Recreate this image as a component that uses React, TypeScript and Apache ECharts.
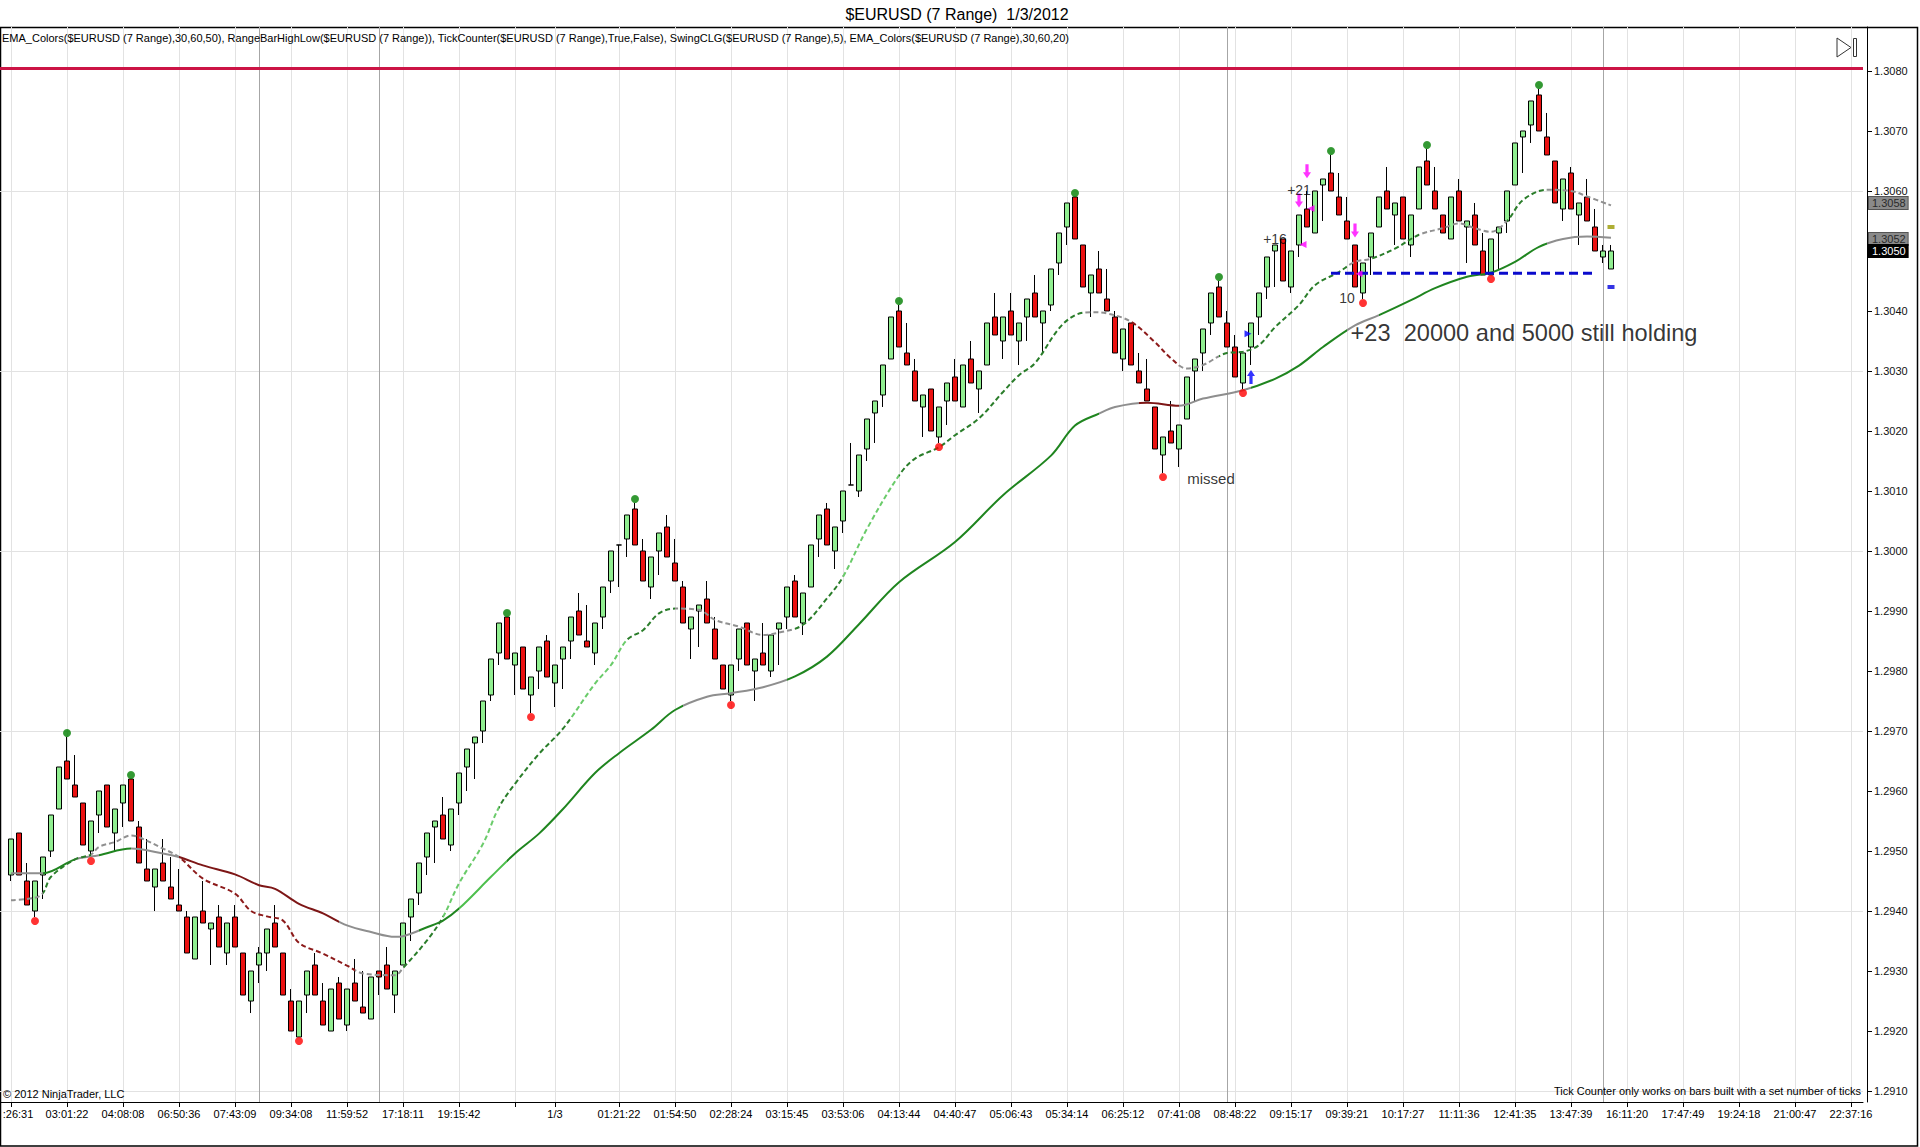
import React, { useEffect, useRef } from "react";
import * as echarts from "echarts";

const FONT = "'Liberation Sans', Arial, Helvetica, sans-serif";

// ---------- axis ranges ----------
const Y_MIN = 1.290817;
const Y_MAX = 1.308733;
const CATEGORY_COUNT = 233;

// ---------- range bars (bar 1 .. 201) ----------
const barOpen = [
  1.2946,1.2953,1.2945,1.2940,1.2946,1.2950,1.2957,1.2965,1.2961,1.2958,
  1.2950,1.2956,1.2961,1.2953,1.2958,1.2962,1.2954,1.2947,1.2944,1.2948,
  1.2944,1.2941,1.2939,1.2932,1.2940,1.2937,1.2939,1.2933,1.2939,1.2933,
  1.2925,1.2931,1.2933,1.2938,1.2933,1.2925,1.2919,1.2926,1.2931,1.2925,
  1.2920,1.2928,1.2921,1.2928,1.2924,1.2922,1.2930,1.2931,1.2926,1.2931,
  1.2939,1.2943,1.2949,1.2954,1.2956,1.2951,1.2958,1.2964,1.2968,1.2970,
  1.2976,1.2983,1.2989,1.2981,1.2984,1.2976,1.2980,1.2985,1.2978,1.2982,
  1.2985,1.2990,1.2985,1.2983,1.2989,1.2995,1.3001,1.3002,1.3007,1.3000,
  1.2994,1.3000,1.3004,1.2998,1.2994,1.2987,1.2990,1.2992,1.2987,1.2981,
  1.2976,1.2982,1.2988,1.2980,1.2983,1.2980,1.2987,1.2989,1.2995,1.2988,
  1.2994,1.3002,1.3007,1.3000,1.3005,1.3011,1.3010,1.3017,1.3023,1.3026,
  1.3032,1.3040,1.3033,1.3030,1.3024,1.3027,1.3019,1.3025,1.3029,1.3024,
  1.3032,1.3027,1.3031,1.3039,1.3035,1.3040,1.3035,1.3039,1.3043,1.3038,
  1.3041,1.3048,1.3054,1.3059,1.3051,1.3043,1.3047,1.3042,1.3039,1.3032,
  1.3038,1.3030,1.3027,1.3024,1.3016,1.3020,1.3017,1.3022,1.3030,1.3033,
  1.3038,1.3044,1.3038,1.3034,1.3028,1.3034,1.3039,1.3044,1.3050,1.3052,
  1.3044,1.3051,1.3057,1.3053,1.3061,1.3063,1.3059,1.3055,1.3051,1.3043,
  1.3049,1.3054,1.3060,1.3056,1.3059,1.3051,1.3057,1.3065,1.3060,1.3056,
  1.3052,1.3060,1.3054,1.3056,1.3050,1.3046,1.3053,1.3055,1.3061,1.3069,
  1.3071,1.3076,1.3069,1.3065,1.3057,1.3063,1.3056,1.3059,1.3054,1.3049,1.3047,
];
const barClose = [
  1.2952,1.2946,1.2941,1.2945,1.2949,1.2956,1.2964,1.2962,1.2959,1.2951,
  1.2955,1.2960,1.2954,1.2957,1.2961,1.2955,1.2948,1.2945,1.2947,1.2945,
  1.2942,1.2940,1.2933,1.2939,1.2938,1.2938,1.2934,1.2938,1.2934,1.2926,
  1.2930,1.2933,1.2937,1.2934,1.2926,1.2920,1.2925,1.2930,1.2926,1.2921,
  1.2927,1.2922,1.2927,1.2925,1.2923,1.2929,1.2929,1.2927,1.2930,1.2938,
  1.2942,1.2948,1.2953,1.2955,1.2952,1.2957,1.2963,1.2967,1.2969,1.2975,
  1.2982,1.2988,1.2982,1.2983,1.2977,1.2979,1.2984,1.2979,1.2981,1.2984,
  1.2989,1.2986,1.2984,1.2988,1.2994,1.3000,1.3001,1.3006,1.3001,1.2995,
  1.2999,1.3003,1.2999,1.2995,1.2988,1.2989,1.2991,1.2988,1.2982,1.2977,
  1.2981,1.2987,1.2981,1.2982,1.2981,1.2986,1.2988,1.2994,1.2989,1.2993,
  1.3001,1.3006,1.3001,1.3004,1.3010,1.3011,1.3016,1.3022,1.3025,1.3031,
  1.3039,1.3034,1.3031,1.3025,1.3026,1.3020,1.3024,1.3028,1.3025,1.3031,
  1.3028,1.3030,1.3038,1.3036,1.3039,1.3036,1.3038,1.3042,1.3039,1.3040,
  1.3047,1.3053,1.3058,1.3052,1.3044,1.3046,1.3043,1.3040,1.3033,1.3037,
  1.3031,1.3028,1.3025,1.3017,1.3019,1.3018,1.3021,1.3029,1.3032,1.3037,
  1.3043,1.3039,1.3034,1.3029,1.3033,1.3038,1.3043,1.3049,1.3051,1.3045,
  1.3050,1.3056,1.3054,1.3060,1.3062,1.3060,1.3056,1.3052,1.3044,1.3048,
  1.3053,1.3059,1.3057,1.3058,1.3052,1.3056,1.3064,1.3061,1.3057,1.3053,
  1.3059,1.3055,1.3055,1.3051,1.3046,1.3052,1.3054,1.3060,1.3068,1.3070,
  1.3075,1.3070,1.3066,1.3058,1.3062,1.3057,1.3058,1.3055,1.3050,1.3050,1.3050,
];
const barLow = [
  1.2945,1.2946,1.2941,1.2939,1.2942,1.2949,1.2957,1.2962,1.2959,1.2951,
  1.2949,1.2953,1.2954,1.2950,1.2954,1.2955,1.2948,1.2945,1.2940,1.2945,
  1.2942,1.2940,1.2933,1.2932,1.2938,1.2931,1.2934,1.2931,1.2934,1.2926,
  1.2923,1.2928,1.2930,1.2934,1.2926,1.2920,1.2919,1.2923,1.2926,1.2921,
  1.2920,1.2922,1.2920,1.2925,1.2923,1.2922,1.2926,1.2927,1.2923,1.2931,
  1.2935,1.2941,1.2946,1.2948,1.2952,1.2950,1.2956,1.2960,1.2962,1.2968,
  1.2975,1.2981,1.2982,1.2976,1.2977,1.2973,1.2977,1.2979,1.2974,1.2977,
  1.2982,1.2986,1.2984,1.2981,1.2987,1.2993,1.2994,1.2999,1.3001,1.2995,
  1.2992,1.2996,1.2999,1.2995,1.2988,1.2982,1.2984,1.2988,1.2982,1.2977,
  1.2975,1.2980,1.2981,1.2975,1.2981,1.2979,1.2981,1.2987,1.2989,1.2986,
  1.2994,1.2999,1.3001,1.2997,1.3003,1.3011,1.3009,1.3015,1.3018,1.3024,
  1.3032,1.3034,1.3031,1.3025,1.3019,1.3020,1.3018,1.3021,1.3025,1.3024,
  1.3028,1.3023,1.3031,1.3036,1.3032,1.3036,1.3031,1.3035,1.3039,1.3033,
  1.3040,1.3046,1.3051,1.3052,1.3044,1.3039,1.3043,1.3040,1.3033,1.3030,
  1.3031,1.3028,1.3025,1.3017,1.3013,1.3018,1.3014,1.3022,1.3025,1.3030,
  1.3036,1.3039,1.3034,1.3029,1.3027,1.3031,1.3036,1.3042,1.3044,1.3045,
  1.3043,1.3049,1.3054,1.3053,1.3055,1.3060,1.3056,1.3052,1.3044,1.3042,
  1.3046,1.3054,1.3057,1.3051,1.3052,1.3049,1.3057,1.3061,1.3057,1.3053,
  1.3052,1.3055,1.3048,1.3051,1.3046,1.3046,1.3047,1.3053,1.3061,1.3063,
  1.3068,1.3070,1.3066,1.3058,1.3055,1.3057,1.3051,1.3055,1.3050,1.3048,1.3047,
];
const barHigh = [
  1.2952,1.2953,1.2948,1.2945,1.2949,1.2956,1.2964,1.2969,1.2966,1.2958,
  1.2955,1.2960,1.2961,1.2957,1.2961,1.2962,1.2955,1.2952,1.2947,1.2952,
  1.2949,1.2947,1.2940,1.2939,1.2945,1.2938,1.2941,1.2938,1.2941,1.2933,
  1.2930,1.2934,1.2937,1.2941,1.2933,1.2927,1.2925,1.2930,1.2933,1.2928,
  1.2927,1.2929,1.2927,1.2932,1.2930,1.2929,1.2930,1.2934,1.2930,1.2938,
  1.2942,1.2948,1.2953,1.2955,1.2959,1.2957,1.2963,1.2967,1.2969,1.2975,
  1.2982,1.2988,1.2989,1.2983,1.2984,1.2979,1.2984,1.2986,1.2981,1.2984,
  1.2989,1.2993,1.2991,1.2988,1.2994,1.3000,1.3001,1.3006,1.3008,1.3002,
  1.2999,1.3003,1.3006,1.3002,1.2995,1.2989,1.2991,1.2995,1.2989,1.2981,
  1.2981,1.2987,1.2988,1.2982,1.2988,1.2986,1.2988,1.2994,1.2996,1.2993,
  1.3001,1.3006,1.3008,1.3004,1.3010,1.3018,1.3016,1.3022,1.3025,1.3031,
  1.3039,1.3041,1.3038,1.3032,1.3026,1.3027,1.3024,1.3028,1.3032,1.3031,
  1.3035,1.3030,1.3038,1.3043,1.3039,1.3043,1.3038,1.3042,1.3046,1.3040,
  1.3047,1.3053,1.3058,1.3059,1.3051,1.3046,1.3050,1.3047,1.3040,1.3037,
  1.3038,1.3033,1.3032,1.3024,1.3019,1.3025,1.3021,1.3029,1.3032,1.3037,
  1.3043,1.3045,1.3040,1.3036,1.3033,1.3038,1.3043,1.3049,1.3051,1.3052,
  1.3050,1.3056,1.3060,1.3060,1.3062,1.3066,1.3063,1.3059,1.3051,1.3048,
  1.3053,1.3059,1.3064,1.3058,1.3059,1.3056,1.3064,1.3067,1.3064,1.3056,
  1.3059,1.3062,1.3055,1.3058,1.3053,1.3052,1.3054,1.3060,1.3068,1.3070,
  1.3075,1.3077,1.3073,1.3065,1.3062,1.3064,1.3058,1.3062,1.3057,1.3051,1.3051,
];

// ---------- EMA readings (bar index, value) ----------
const emaSlowBars = [1,5,9,12,16,20,22,25,29,32,34,37,40,43,46,49,50,53,55,57,61,64,67,70,74,77,81,84,88,91,95,99,103,107,112,119,125,131,134,137,139,143,147,150,155,159,162,165,169,172,176,179,183,186,189,192,195,198,201];
const emaSlowValues = [1.29463,1.29463,1.29486,1.29493,1.29504,1.29496,1.29490,1.29476,1.29461,1.29443,1.29437,1.29412,1.29396,1.29376,1.29365,1.29357,1.29358,1.29373,1.29384,1.29404,1.29457,1.29496,1.29529,1.29570,1.29630,1.29663,1.29702,1.29735,1.29757,1.29763,1.29773,1.29791,1.29824,1.29878,1.29948,1.30015,1.30093,1.30159,1.30209,1.30229,1.30240,1.30247,1.30242,1.30254,1.30268,1.30287,1.30309,1.30340,1.30376,1.30393,1.30418,1.30438,1.30457,1.30464,1.30482,1.30507,1.30520,1.30524,1.30522];
const emaFastBars = [1,4,5,6,9,11,12,14,16,17,20,22,25,29,31,33,35,37,40,43,45,49,50,53,55,57,60,62,64,67,70,74,76,78,80,82,84,87,89,92,95,97,100,103,105,108,112,114,117,119,122,125,127,129,132,134,136,138,141,144,146,148,150,153,155,157,159,162,164,167,169,171,174,177,180,182,184,186,188,190,193,196,198,201];
const emaFastValues = [1.29418,1.29422,1.29430,1.29457,1.29486,1.29494,1.29507,1.29515,1.29526,1.29523,1.29504,1.29490,1.29454,1.29429,1.29400,1.29391,1.29384,1.29347,1.29329,1.29309,1.29296,1.29293,1.29305,1.29351,1.29390,1.29446,1.29512,1.29573,1.29612,1.29662,1.29704,1.29779,1.29810,1.29852,1.29868,1.29896,1.29904,1.29902,1.29885,1.29874,1.29860,1.29864,1.29877,1.29921,1.29957,1.30037,1.30126,1.30154,1.30173,1.30193,1.30221,1.30265,1.30293,1.30313,1.30371,1.30393,1.30398,1.30396,1.30382,1.30348,1.30321,1.30304,1.30310,1.30330,1.30332,1.30343,1.30373,1.30410,1.30443,1.30465,1.30482,1.30487,1.30504,1.30527,1.30538,1.30546,1.30538,1.30532,1.30550,1.30585,1.30602,1.30600,1.30591,1.30576];

// EMA colour states (segment start bar, state)
const slowSegStarts = [1,5,9,12,16,22,42,52,57,63,85,98,137,142,147,156,168,172,193];
const slowSegKinds = ["flat","up","flat","up","flat","down","flat","up","steep","up","flat","up","flat","down","flat","up","flat","up","flat"];
const fastSegStarts = [1,5,11,22,44,50,55,62,71,78,84,99,105,112,135,141,147,152,168,171,177,188,193];
const fastSegKinds = ["flat","up","flat","down","flat","up","steep","up","steep","up","flat","up","steep","up","flat","down","flat","up","flat","up","flat","up","flat"];

// ---------- swings ----------
const swingHighBars = [8,16,63,79,112,134,152,166,178,192];
const swingLowBars = [4,11,37,66,91,117,145,155,170,186];

// ---------- levels ----------
const hGridLevels = [1.2910,1.2940,1.2970,1.3000,1.3030,1.3060];
const redLevels = [1.30805];
const supportBars = [166,199];
const supportPrice = 1.30463;
const rangeMarkerBar = 201;
const rangeMarkerHigh = 1.3054;
const rangeMarkerLow = 1.3044;
const tagValues = [1.3058,1.3052,1.3050];

// ---------- trade markers ----------
const tradeBars = [162,163,169,156,163,162,169,156];
const tradePrices = [1.30584,1.30633,1.30534,1.30290,1.30571,1.30511,1.30462,1.30362];
const tradeKinds = ["sellArrow","sellArrow","sellArrow","buyArrow","sellTri","sellTri","sellTri","buyTri"];

// ---------- annotations ----------
const noteBars = [162,159,168,151,168];
const notePrices = [1.30602,1.30520,1.30421,1.30120,1.30363];
const noteTexts = ["+21","+16","10","missed","+23  20000 and 5000 still holding"];

// ---------- x axis ----------
const tickBars = [1,8,15,22,29,36,43,50,57,64,69,77,84,91,98,105,112,119,126,133,140,147,154,161,168,175,182,189,196,203,210,217,224,231];
const tickLabels = [":26:31","03:01:22","04:08:08","06:50:36","07:43:09","09:34:08","11:59:52","17:18:11","19:15:42","","1/3","01:21:22","01:54:50","02:28:24","03:15:45","03:53:06","04:13:44","04:40:47","05:06:43","05:34:14","06:25:12","07:41:08","08:48:22","09:15:17","09:39:21","10:17:27","11:11:36","12:41:35","13:47:39","16:11:20","17:47:49","19:24:18","21:00:47","22:37:16"];
const sessionBars = [32,47,153,200];

const TITLE = "$EURUSD (7 Range)  1/3/2012";
const HEADER = "EMA_Colors($EURUSD (7 Range),30,60,50), RangeBarHighLow($EURUSD (7 Range)), TickCounter($EURUSD (7 Range),True,False), SwingCLG($EURUSD (7 Range),5), EMA_Colors($EURUSD (7 Range),30,60,20)";
const COPYRIGHT = "© 2012 NinjaTrader, LLC";
const TICK_NOTE = "Tick Counter only works on bars built with a set number of ticks";

const SLOW_COLORS: Record<string, string> = { flat: "#8E8E8E", up: "#1F851F", steep: "#4DBF4D", down: "#7D1616" };
const FAST_COLORS: Record<string, string> = { flat: "#909090", up: "#2A7D2A", steep: "#6ACB6A", down: "#8C1A1A" };

function pieces(starts: number[], kinds: string[], colors: Record<string, string>) {
  return starts.map((s, i) => ({
    gte: s,
    lt: i + 1 < starts.length ? starts[i + 1] : 10000,
    color: colors[kinds[i]],
  }));
}

const DOWN_ARROW = "path://M3,0 L7,0 L7,8 L10,8 L5,14 L0,8 L3,8 Z";
const UP_ARROW = "path://M5,0 L10,6 L7,6 L7,14 L3,14 L3,6 L0,6 Z";

function buildOption() {
  const cats = Array.from({ length: CATEGORY_COUNT }, (_, i) => "b" + i);
  const tickSet = new Set(tickBars);
  const labelMap = new Map<number, string>(tickBars.map((b, i) => [b, tickLabels[i]]));
  const firstTick = tickBars[0];
  const candleData = barOpen.map((o, i) => [i + 1, o, barClose[i], barLow[i], barHigh[i]]);

  const tradeData = tradeBars.map((b, i) => {
    const k = tradeKinds[i];
    const magenta = k.startsWith("sell");
    const color = magenta ? "#FF00FF" : "#0000FF";
    if (k === "sellArrow") return { value: [b, tradePrices[i]], symbol: DOWN_ARROW, symbolSize: [8, 14], itemStyle: { color } };
    if (k === "buyArrow") return { value: [b, tradePrices[i]], symbol: UP_ARROW, symbolSize: [8, 14], itemStyle: { color } };
    return {
      value: [b, tradePrices[i]],
      symbol: "triangle",
      symbolSize: 7,
      symbolRotate: magenta ? 90 : -90,
      symbolOffset: [magenta ? 4 : -3, 0],
      itemStyle: { color },
    };
  });

  const noteStyles = [
    { position: "inside", fontSize: 14 },
    { position: "inside", fontSize: 14 },
    { position: "inside", fontSize: 14 },
    { position: "inside", fontSize: 15 },
    { position: "right", fontSize: 23.6, distance: 3 },
  ];
  const noteData = noteBars.map((b, i) => ({
    value: [b, notePrices[i]],
    label: {
      show: true,
      formatter: noteTexts[i],
      color: "#000",
      fontFamily: FONT,
      ...noteStyles[i],
    },
  }));

  const tagStyles = [
    { backgroundColor: "#8A8A8A", color: "#2A2A2A", borderColor: "#555" },
    { backgroundColor: "#8A8A8A", color: "#2A2A2A", borderColor: "#555" },
    { backgroundColor: "#000000", color: "#FFFFFF", borderColor: "#000" },
  ];

  const textStyleBase = { fontFamily: FONT, fill: "#000" };

  return {
    animation: false,
    backgroundColor: "#FFFFFF",
    textStyle: { fontFamily: FONT },
    grid: { left: -1, top: 27, width: 1864, height: 1075, containLabel: false, outerBoundsMode: "none" },
    xAxis: {
      type: "category",
      data: cats,
      boundaryGap: true,
      axisLine: { show: true, lineStyle: { color: "#000", width: 1 } },
      axisTick: { show: true, alignWithLabel: true, length: 5, interval: (i: number) => tickSet.has(i), lineStyle: { color: "#000" } },
      axisLabel: {
        show: true,
        interval: (i: number) => tickSet.has(i),
        formatter: (_v: string, i: number) => {
          const t = labelMap.get(i) ?? "";
          return i === firstTick ? "{lead|" + t + "}" : t;
        },
        rich: { lead: { padding: [0, 0, 0, 14], fontSize: 11, fontFamily: FONT, color: "#000" } },
        fontSize: 11,
        color: "#000",
        margin: 6,
        fontFamily: FONT,
      },
      splitLine: { show: false },
    },
    yAxis: {
      type: "value",
      position: "right",
      min: Y_MIN,
      max: Y_MAX,
      splitNumber: 18,
      offset: 4,
      axisLine: { show: true, lineStyle: { color: "#000", width: 1 } },
      axisTick: { show: true, length: 5, lineStyle: { color: "#000" } },
      axisLabel: {
        show: true,
        showMinLabel: false,
        showMaxLabel: false,
        formatter: (v: number) => v.toFixed(4),
        fontSize: 11,
        color: "#111",
        margin: 7,
        fontFamily: FONT,
      },
      splitLine: { show: false },
    },
    visualMap: [
      { type: "piecewise", show: false, seriesIndex: 1, dimension: 0, pieces: pieces(slowSegStarts, slowSegKinds, SLOW_COLORS) },
      { type: "piecewise", show: false, seriesIndex: 2, dimension: 0, pieces: pieces(fastSegStarts, fastSegKinds, FAST_COLORS) },
    ],
    series: [
      {
        type: "candlestick",
        name: "EURUSD",
        data: candleData,
        encode: { x: 0, y: [1, 2, 3, 4] },
        barWidth: 6,
        itemStyle: { color: "#90EE90", color0: "#EA1111", borderColor: "#000", borderColor0: "#000", borderWidth: 1 },
        z: 2,
        markLine: {
          z: 1,
          silent: true,
          precision: 6,
          symbol: ["none", "none"],
          label: { show: false },
          data: [
            ...hGridLevels.map((v) => ({ yAxis: v, lineStyle: { color: "#E2E2E2", width: 1, type: "solid" } })),
            ...tickBars.map((b) => ({ xAxis: b, lineStyle: { color: "#E2E2E2", width: 1, type: "solid" } })),
            ...sessionBars.map((b) => ({ xAxis: b, lineStyle: { color: "#A6A6A6", width: 1, type: "solid" } })),
            ...redLevels.map((v) => ({ yAxis: v, lineStyle: { color: "#CC1445", width: 3, type: "solid" } })),
          ],
        },
      },
      {
        type: "line",
        name: "EMA 50",
        data: emaSlowBars.map((b, i) => [b, emaSlowValues[i]]),
        showSymbol: false,
        smooth: 0.35,
        lineStyle: { width: 2 },
        z: 4,
      },
      {
        type: "line",
        name: "EMA 20",
        data: emaFastBars.map((b, i) => [b, emaFastValues[i]]),
        showSymbol: false,
        smooth: 0.35,
        lineStyle: { width: 2, type: [5, 3] },
        z: 4,
      },
      {
        type: "line",
        name: "support",
        data: supportBars.map((b) => [b, supportPrice]),
        showSymbol: false,
        symbol: "none",
        lineStyle: { color: "#0A0ACC", width: 3, type: [9, 5] },
        z: 5,
        markLine: {
          z: 8,
          silent: true,
          precision: 6,
          symbol: ["none", "none"],
          data: tagValues.map((v, i) => ({
            yAxis: v,
            lineStyle: { width: 0, color: "rgba(0,0,0,0)" },
            label: {
              show: true,
              position: "end",
              distance: 6,
              formatter: v.toFixed(4),
              fontSize: 11,
              fontFamily: FONT,
              padding: [1, 2, 0, 3],
              borderWidth: 1,
              opacity: 1,
              ...tagStyles[i],
            },
          })),
        },
      },
      {
        type: "scatter",
        name: "swing high",
        data: swingHighBars.map((b) => [b, barHigh[b - 1]]),
        symbol: "circle",
        symbolSize: 8,
        symbolOffset: [0, -4],
        itemStyle: { color: "#008000" },
        z: 6,
      },
      {
        type: "scatter",
        name: "swing low",
        data: swingLowBars.map((b) => [b, barLow[b - 1]]),
        symbol: "circle",
        symbolSize: 8,
        symbolOffset: [0, 4],
        itemStyle: { color: "#FF0000" },
        z: 6,
      },
      {
        type: "scatter",
        name: "range high/low",
        data: [
          { value: [rangeMarkerBar, rangeMarkerHigh], itemStyle: { color: "#9A9A00" } },
          { value: [rangeMarkerBar, rangeMarkerLow], itemStyle: { color: "#0000DD" } },
        ],
        symbol: "rect",
        symbolSize: [7, 4],
        z: 6,
      },
      {
        type: "scatter",
        name: "trades",
        data: tradeData,
        z: 7,
      },
      {
        type: "scatter",
        name: "notes",
        data: noteData,
        symbolSize: 1,
        itemStyle: { color: "rgba(0,0,0,0)" },
        z: 9,
      },
    ],
    graphic: [
      { type: "rect", silent: true, z: 0, shape: { x: 0.5, y: 27.5, width: 1917, height: 1118.5 }, style: { fill: "none", stroke: "#000", lineWidth: 1.5 } },
      { type: "text", silent: true, z: 20, style: { ...textStyleBase, text: TITLE, x: 957, y: 14, fontSize: 16, textAlign: "center", textVerticalAlign: "middle", align: "center", verticalAlign: "middle" } },
      { type: "text", silent: true, z: 20, style: { ...textStyleBase, text: HEADER, x: 2, y: 38, fontSize: 11, textAlign: "left", textVerticalAlign: "middle", align: "left", verticalAlign: "middle" } },
      { type: "text", silent: true, z: 20, style: { ...textStyleBase, text: COPYRIGHT, x: 3, y: 1094, fontSize: 11, textAlign: "left", textVerticalAlign: "middle", align: "left", verticalAlign: "middle" } },
      { type: "text", silent: true, z: 20, style: { ...textStyleBase, text: TICK_NOTE, x: 1861, y: 1091, fontSize: 11, textAlign: "right", textVerticalAlign: "middle", align: "right", verticalAlign: "middle" } },
      { type: "polygon", silent: true, z: 20, shape: { points: [[1837, 38], [1837, 57], [1851, 47.5]] }, style: { fill: "none", stroke: "#333", lineWidth: 1 } },
      { type: "rect", silent: true, z: 20, shape: { x: 1853.5, y: 38.5, width: 3, height: 18 }, style: { fill: "none", stroke: "#333", lineWidth: 1 } },
    ],
  };
}

export default function App() {
  const ref = useRef<HTMLDivElement>(null);
  useEffect(() => {
    if (!ref.current) return;
    const chart = echarts.init(ref.current, null, { renderer: "svg" });
    chart.setOption(buildOption() as any);
    return () => chart.dispose();
  }, []);
  return (
    <div
      ref={ref}
      style={{ position: "absolute", left: 0, top: 0, width: 1920, height: 1147, background: "#fff" }}
    />
  );
}
